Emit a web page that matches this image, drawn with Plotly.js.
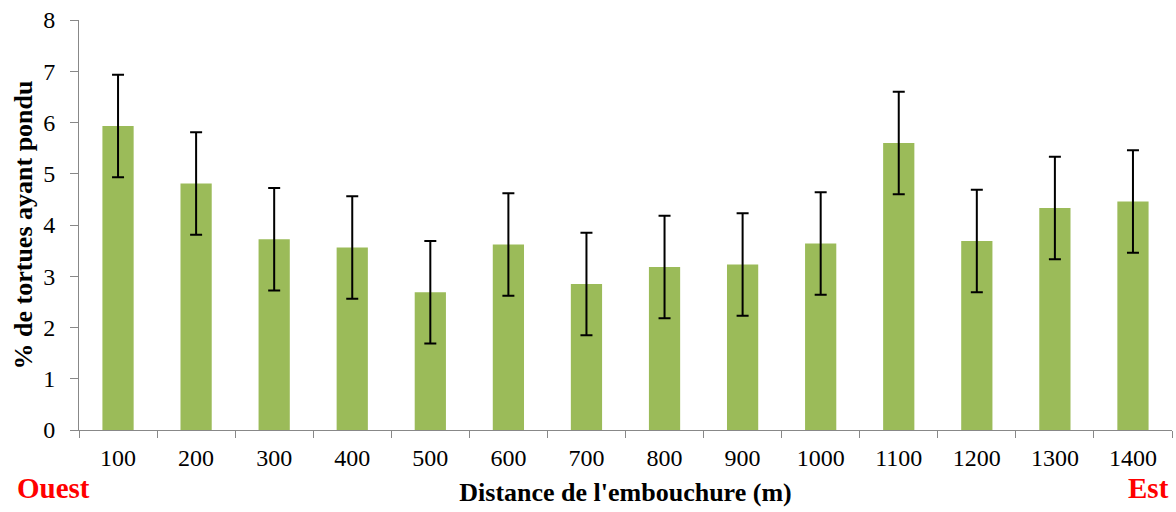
<!DOCTYPE html>
<html>
<head>
<meta charset="utf-8">
<script src="https://cdn.plot.ly/plotly-3.0.1.min.js"></script>
<style>html,body{margin:0;padding:0;background:#fff;}#chart{width:1176px;height:512px;}</style>
</head>
<body>
<div id="chart"></div>
<script>
const categories = ["100","200","300","400","500","600","700","800","900","1000","1100","1200","1300","1400"];
const values = [5.93, 4.81, 3.72, 3.56, 2.69, 3.62, 2.85, 3.18, 3.23, 3.64, 5.60, 3.69, 4.33, 4.46];
const errors = [1.0, 1.0, 1.0, 1.0, 1.0, 1.0, 1.0, 1.0, 1.0, 1.0, 1.0, 1.0, 1.0, 1.0];
const yTicks = [0,1,2,3,4,5,6,7,8];

const serif = "Liberation Serif, Times New Roman, serif";

const trace = {
  type: 'bar',
  x: categories,
  y: values,
  marker: {color: '#9BBB59'},
  error_y: {type: 'data', array: errors, visible: true, color: '#000000', thickness: 2, width: 6},
  hoverinfo: 'x+y'
};

const layout = {
  width: 1176, height: 512,
  margin: {l: 79, r: 4, t: 20, b: 82},
  paper_bgcolor: '#ffffff', plot_bgcolor: '#ffffff',
  bargap: 0.6,
  showlegend: false,
  font: {family: serif, color: '#000'},
  xaxis: {
    type: 'category',
    tickson: 'boundaries',
    ticks: 'outside', ticklen: 7, tickcolor: '#888', tickwidth: 1,
    ticklabelstandoff: 6,
    showline: true, linecolor: '#888', linewidth: 1,
    showgrid: false,
    automargin: false,
    tickfont: {family: serif, size: 24, color: '#000'},
    title: {text: "<b>Distance de l'embouchure (m)</b>", font: {family: serif, size: 26, color: '#000'}, standoff: 13}
  },
  yaxis: {
    range: [0, 8],
    tickvals: yTicks,
    ticks: 'outside', ticklen: 8, tickcolor: '#888', tickwidth: 1,
    ticklabelstandoff: 10,
    showline: true, linecolor: '#888', linewidth: 1,
    showgrid: false, zeroline: false,
    automargin: false,
    tickfont: {family: serif, size: 24, color: '#000'},
    title: {text: "<b>% de tortues ayant pondu</b>", font: {family: serif, size: 26, color: '#000'}, standoff: 3}
  },
  annotations: [
    {text: '<b>Ouest</b>', xref: 'paper', yref: 'paper', x: -0.0585, y: -0.1415, xanchor: 'left', yanchor: 'middle', showarrow: false, font: {family: serif, size: 29, color: '#ff0000'}},
    {text: '<b>Est</b>', xref: 'paper', yref: 'paper', x: 0.999, y: -0.1415, xanchor: 'right', yanchor: 'middle', showarrow: false, font: {family: serif, size: 29, color: '#ff0000'}}
  ]
};

Plotly.newPlot('chart', [trace], layout, {displayModeBar: false, staticPlot: true});
</script>
</body>
</html>
